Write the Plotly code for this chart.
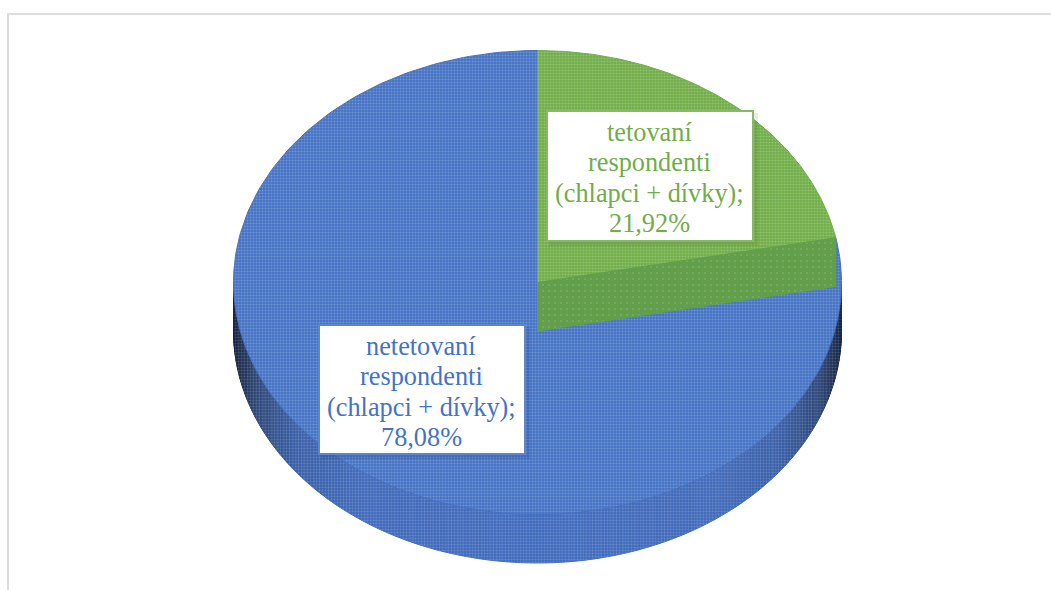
import numpy as np
import plotly.graph_objects as go

categories = ["tetovaní respondenti (chlapci + dívky)", "netetovaní respondenti (chlapci + dívky)"]
values = [21.92, 78.08]
label_lines = [["tetovaní", "respondenti", "(chlapci + dívky);", "21,92%"],
               ["netetovaní", "respondenti", "(chlapci + dívky);", "78,08%"]]
colors = ["#70ad47", "#4472c4"]

W, H = 1051, 590
CX, CY, RX, RY, DEPTH = 537.5, 282.5, 304, 232, 48.5


def arc(f0, f1, n=240, dy=0):
    a = 2 * np.pi * np.linspace(f0, f1, n)
    return CX + RX * np.sin(a), CY + dy - RY * np.cos(a)


def pat(bg, fg, size=3, sol=0.4):
    return dict(shape=".", size=size, solidity=sol, fgcolor=fg, bgcolor=bg, fillmode="replace")


def lerp_hex(stops, t):
    ts = [s[0] for s in stops]
    cs = np.array([[int(s[1][i:i + 2], 16) for i in (1, 3, 5)] for s in stops])
    return "rgb(%d,%d,%d)" % tuple(np.interp(t, ts, cs[:, k]) for k in range(3))


fig = go.Figure()
WALL_STOPS = [(0, "#406bbd"), (0.6, "#3f69b9"), (0.8, "#375da6"), (0.92, "#2a4478"), (1, "#14223f")]
edges = np.linspace(0.25, 0.75, 241)
for f0, f1 in zip(edges[:-1], edges[1:]):
    x0, y0 = arc(f0, f1, 3)
    x1, y1 = arc(f0, f1, 3, DEPTH)
    t = abs(np.sin(2 * np.pi * (f0 + f1) / 2))
    c = lerp_hex(WALL_STOPS, t)
    fig.add_trace(go.Scatter(x=np.r_[x0, x1[::-1]], y=np.r_[y0, y1[::-1]], mode="lines", fill="toself",
                             fillcolor=c, line=dict(color=c, width=1), hoverinfo="skip", showlegend=False))
wx0, wy0 = arc(0.25, 0.75)
wx1, wy1 = arc(0.25, 0.75, dy=DEPTH)
fig.add_trace(go.Scatter(x=np.r_[wx0, wx1[::-1]], y=np.r_[wy0, wy1[::-1]], mode="none", fill="toself",
                         fillcolor="rgba(0,0,0,0)", fillpattern=pat("rgba(0,0,0,0)", "rgba(255,255,255,0.2)"),
                         hoverinfo="skip", showlegend=False))

frac_green = values[0] / sum(values)

# blue top face
bx, by = arc(frac_green, 1)
fig.add_trace(go.Scatter(x=np.r_[CX, bx, CX], y=np.r_[CY, by, CY], mode="lines", fill="toself",
                         fillcolor=colors[1], fillpattern=pat(colors[1], "rgba(255,255,255,0.24)"),
                         line=dict(color="#4570bf", width=1), name=categories[1], hoverinfo="skip", showlegend=False))
# green top face
gx, gy = arc(0, frac_green)
fig.add_trace(go.Scatter(x=np.r_[CX, gx, CX], y=np.r_[CY, gy, CY], mode="lines", fill="toself",
                         fillcolor=colors[0], fillpattern=pat(colors[0], "rgba(255,255,255,0.24)"),
                         line=dict(color=colors[0], width=1), name=categories[0], hoverinfo="skip", showlegend=False))
# green cut wall
ex, ey = gx[-1], gy[-1]
fig.add_trace(go.Scatter(x=[CX, ex, ex, CX, CX], y=[CY, ey, ey + DEPTH, CY + DEPTH, CY], mode="lines", fill="toself",
                         fillcolor="#639f4b", fillpattern=pat("#639f4b", "rgba(255,255,255,0.3)", 6, 0.04),
                         line=dict(color="#639f4b", width=1), hoverinfo="skip", showlegend=False))

shapes = [dict(type="path", path=f"M 8 {H} L 8 14 L {W} 14", line=dict(color="#dedede", width=2), layer="below")]
boxes = [(547, 111, 753, 241, "#84bb62", "rgba(40,80,20,0.10)"), (319, 325, 525, 454, "#5d86d2", "rgba(20,40,90,0.12)")]
annots = []
for (x0, y0, x1, y1, bc, sh), lines, col in zip(boxes, label_lines, colors):
    shapes.append(dict(type="rect", x0=x0 + 2, y0=y0 + 2, x1=x1 + 5, y1=y1 + 5, fillcolor=sh, line_width=0))
    shapes.append(dict(type="rect", x0=x0, y0=y0, x1=x1, y1=y1, fillcolor="white", line=dict(color=bc, width=2)))
    for i, t in enumerate(lines):
        annots.append(dict(x=(x0 + x1) / 2 - 1, y=y0 + 21.5 + i * 30.3, text=t, showarrow=False, xanchor="center", yanchor="middle",
                           font=dict(family="Liberation Serif", size=26.3, color=col)))

fig.update_layout(width=W, height=H, margin=dict(l=0, r=0, t=0, b=0), paper_bgcolor="white", plot_bgcolor="white",
                  xaxis=dict(range=[0, W], visible=False, fixedrange=True),
                  yaxis=dict(range=[H, 0], visible=False, fixedrange=True),
                  shapes=shapes, annotations=annots, showlegend=False)
fig.write_html("out.html", config=dict(displayModeBar=False),
               post_script="document.body.style.margin='0';document.documentElement.style.overflow='hidden';")
